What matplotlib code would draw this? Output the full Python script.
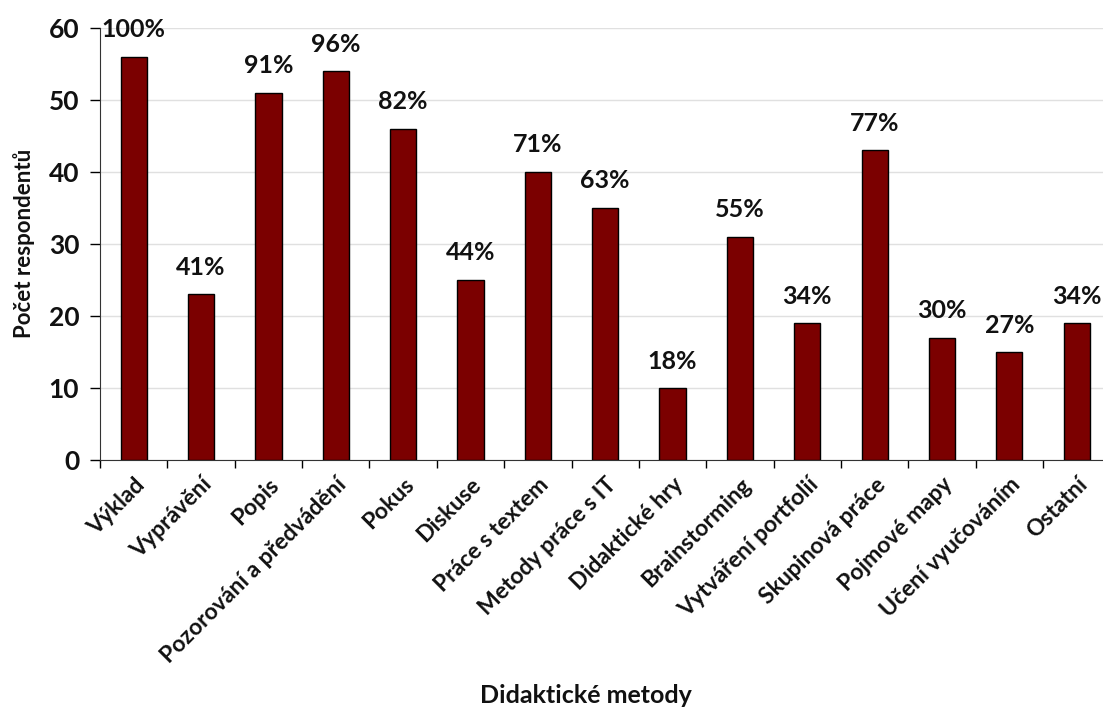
import numpy as np
import matplotlib.pyplot as plt
import matplotlib as mpl

mpl.rcParams['font.family'] = ['Lato', 'DejaVu Sans']
mpl.rcParams['font.weight'] = 'bold'

metody = ["Výklad", "Vyprávění", "Popis", "Pozorování a předvádění", "Pokus",
          "Diskuse", "Práce s textem", "Metody práce s IT", "Didaktické hry",
          "Brainstorming", "Vytváření portfolií", "Skupinová práce",
          "Pojmové mapy", "Učení vyučováním", "Ostatní"]
pocty = [56, 23, 51, 54, 46, 25, 40, 35, 10, 31, 19, 43, 17, 15, 19]
procenta = [100, 41, 91, 96, 82, 44, 71, 63, 18, 55, 34, 77, 30, 27, 34]

fig = plt.figure(figsize=(11.03, 7.11), dpi=100)
ax = fig.add_axes((0.0907, 0.353, 0.916, 0.608))

x = np.arange(len(metody))
ax.bar(x, pocty, width=0.39, color="#7B0000", edgecolor="black", linewidth=1, zorder=3)

for xi, v, p in zip(x, pocty, procenta):
  ax.annotate("%d%%" % p, (xi, v), xytext=(0, 14), textcoords="offset points",
              ha="center", va="baseline", fontsize=18, fontweight="bold", color="#111111")

ax.set_xlim(-0.5, len(metody) - 0.5)
ax.set_ylim(0, 60)
ax.set_yticks(range(0, 61, 10))
ax.yaxis.grid(True, color="#e0e0e0", linewidth=1, zorder=0)

# category boundary ticks, labels centred under bars
ax.set_xticks(np.arange(-0.5, len(metody), 1))
ax.set_xticklabels([])
ax.set_xticks(x, minor=True)
ax.set_xticklabels(metody, minor=True, rotation=45, ha="right", rotation_mode="anchor",
                   fontsize=16.5, fontweight="bold", color="#111111")
ax.tick_params(axis="x", which="minor", length=0, pad=10)
ax.tick_params(axis="x", which="major", length=6, direction="out", width=1)
ax.tick_params(axis="y", length=7, direction="out", width=1, labelsize=19,
               labelcolor="#111111", pad=8)

for s in ["top", "right"]:
  ax.spines[s].set_visible(False)
for s in ["left", "bottom"]:
  ax.spines[s].set_color("#333333")

ax.set_ylabel("Počet respondentů", fontsize=16, fontweight="bold", labelpad=10, color="#111111")
fig.text(0.531, 0.022, "Didaktické metody", ha="center", va="center",
         fontsize=18, fontweight="bold", color="#111111")

fig.savefig("out.png", dpi=100)
